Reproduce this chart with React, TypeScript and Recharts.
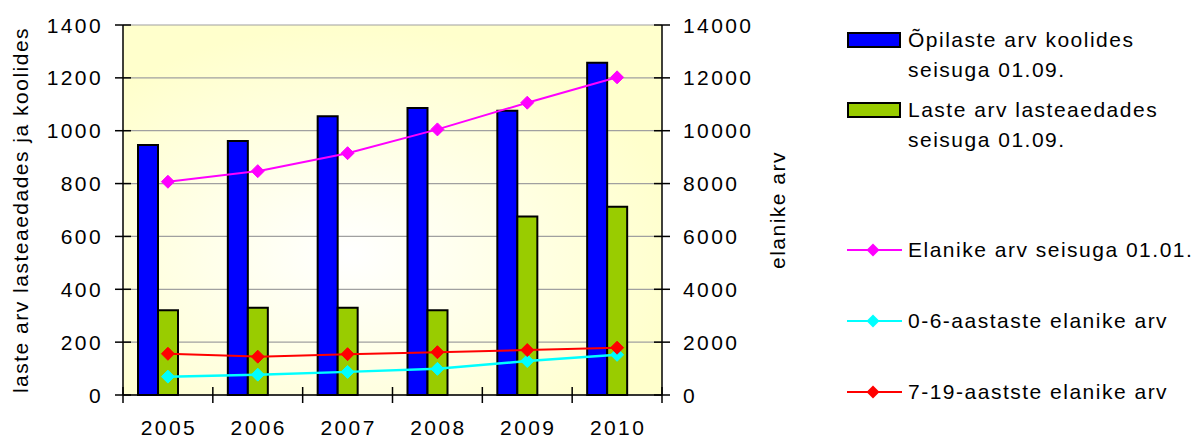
import React from 'react';
import { ComposedChart, Bar, Line, XAxis, YAxis, CartesianGrid } from 'recharts';

const years = ['2005', '2006', '2007', '2008', '2009', '2010'];
const pupils = [946, 961, 1055, 1086, 1076, 1257];
const kindergarten = [321, 330, 330, 321, 675, 712];
const residents = [8070, 8470, 9150, 10050, 11060, 12020];
const age0to6 = [695, 770, 875, 990, 1285, 1520];
const age7to19 = [1560, 1450, 1545, 1620, 1700, 1790];

const leftTicks = [0, 200, 400, 600, 800, 1000, 1200, 1400];
const rightTicks = [0, 2000, 4000, 6000, 8000, 10000, 12000, 14000];

const leftTitle = 'laste arv lasteaedades ja koolides';
const rightTitle = 'elanike arv';

const barLegend = [
  { lines: ['Õpilaste arv koolides', 'seisuga 01.09.'], color: '#0000FF' },
  { lines: ['Laste arv lasteaedades', 'seisuga 01.09.'], color: '#99CC00' },
];
const lineLegend = [
  { label: 'Elanike arv seisuga 01.01.', color: '#FF00FF' },
  { label: '0-6-aastaste elanike arv', color: '#00FFFF' },
  { label: '7-19-aastste elanike arv', color: '#FF0000' },
];

const data = years.map((year, i) => ({
  year,
  pupils: pupils[i],
  kindergarten: kindergarten[i],
  residents: residents[i],
  age0to6: age0to6[i],
  age7to19: age7to19[i],
}));

const FONT = "Arial, 'Liberation Sans', sans-serif";
const FS = 21;
const LS = 1.5;
const TICK_LS = 2.4;

const makeDiamond = (color: string, r = 6.5) => (props: any) => {
  const { cx, cy, index } = props;
  if (cx == null || cy == null) return <g key={index} />;
  return (
    <polygon
      key={index}
      points={`${cx},${cy - r} ${cx + r},${cy} ${cx},${cy + r} ${cx - r},${cy}`}
      fill={color}
      stroke={color}
      strokeWidth={1}
    />
  );
};

const LeftTick = (props: any) => {
  const { x, y, payload } = props;
  return (
    <g>
      <line x1={x - 8} x2={x + 8} y1={y} y2={y} stroke="#000" strokeWidth={1.5} />
      <text x={x - 20} y={y} dy="0.36em" textAnchor="end" fontSize={FS} fontFamily={FONT} letterSpacing={TICK_LS} fill="#000">
        {payload.value}
      </text>
    </g>
  );
};

const RightTick = (props: any) => {
  const { x, y, payload } = props;
  return (
    <g>
      <line x1={x - 8} x2={x + 8} y1={y} y2={y} stroke="#000" strokeWidth={1.5} />
      <text x={x + 21} y={y} dy="0.36em" textAnchor="start" fontSize={FS} fontFamily={FONT} letterSpacing={TICK_LS} fill="#000">
        {payload.value}
      </text>
    </g>
  );
};

const XTick = (props: any) => {
  const { x, y, payload, index, visibleTicksCount } = props;
  const half = payload && payload.offset ? payload.offset : 44.9;
  const count = visibleTicksCount || years.length;
  return (
    <g>
      <line x1={x - half} x2={x - half} y1={y - 8} y2={y + 8} stroke="#000" strokeWidth={1.5} />
      {index === count - 1 && (
        <line x1={x + half} x2={x + half} y1={y - 8} y2={y + 8} stroke="#000" strokeWidth={1.5} />
      )}
      <text x={x + 1} y={y + 40} textAnchor="middle" fontSize={FS} fontFamily={FONT} letterSpacing={TICK_LS} fill="#000">
        {payload.value}
      </text>
    </g>
  );
};

const AxisTitle = (text: string, baselineX: (vb: any) => number) => (props: any) => {
  const vb = props.viewBox || { x: 0, y: 25, width: 0, height: 370 };
  const bx = baselineX(vb);
  const cy = vb.y + vb.height / 2;
  return (
    <text
      x={bx}
      y={cy}
      transform={`rotate(-90, ${bx}, ${cy})`}
      textAnchor="middle"
      fontSize={FS}
      fontFamily={FONT}
      letterSpacing={LS}
      fill="#000"
    >
      {text}
    </text>
  );
};

const Legend = () => (
  <svg width={1199} height={440} style={{ position: 'absolute', left: 0, top: 0, pointerEvents: 'none' }}>
    {barLegend.map((item, i) => {
      const top = 33 + i * 70;
      return (
        <g key={i}>
          <rect x={848} y={top} width={52} height={14} fill={item.color} stroke="#000" strokeWidth={2} />
          {item.lines.map((ln, j) => (
            <text key={j} x={908} y={top + 14 + j * 30} fontSize={FS} fontFamily={FONT} letterSpacing={LS} fill="#000">
              {ln}
            </text>
          ))}
        </g>
      );
    })}
    {lineLegend.map((item, i) => {
      const ly = 250 + i * 71;
      const r = 6.5;
      return (
        <g key={i}>
          <line x1={847} x2={902} y1={ly} y2={ly} stroke={item.color} strokeWidth={2} />
          <polygon points={`873,${ly - r} ${873 + r},${ly} 873,${ly + r} ${873 - r},${ly}`} fill={item.color} />
          <text x={908} y={ly + 7} fontSize={FS} fontFamily={FONT} letterSpacing={LS} fill="#000">
            {item.label}
          </text>
        </g>
      );
    })}
  </svg>
);

export default function App() {
  return (
    <div style={{ position: 'absolute', left: 0, top: 0, width: 1199, height: 440, background: '#fff' }}>
      <ComposedChart
        width={1199}
        height={440}
        data={data}
        margin={{ top: 25, right: 477, bottom: 0, left: 0 }}
        barGap={0}
        barSize={20}
      >
        <defs>
          <radialGradient id="plotBg" cx="42%" cy="62%" r="62%">
            <stop offset="0%" stopColor="#FFFFFF" />
            <stop offset="100%" stopColor="#FFFFCC" />
          </radialGradient>
        </defs>
        <CartesianGrid
          yAxisId="left"
          vertical={false}
          stroke="#A0A0A0"
          strokeWidth={1.2}
          fill="url(#plotBg)"
          fillOpacity={1}
        />
        <XAxis
          dataKey="year"
          height={45}
          tickSize={0}
          tickMargin={0}
          tickLine={false}
          axisLine={{ stroke: '#000', strokeWidth: 1.5 }}
          tick={<XTick />}
          interval={0}
        />
        <YAxis
          yAxisId="left"
          orientation="left"
          width={123}
          domain={[0, 1400]}
          ticks={leftTicks}
          tickSize={0}
          tickMargin={0}
          tickLine={false}
          axisLine={{ stroke: '#000', strokeWidth: 1.5 }}
          tick={<LeftTick />}
          interval={0}
          label={{ content: AxisTitle(leftTitle, (vb) => vb.x + 28) }}
        />
        <YAxis
          yAxisId="right"
          orientation="right"
          width={60}
          domain={[0, 14000]}
          ticks={rightTicks}
          tickSize={0}
          tickMargin={0}
          tickLine={false}
          axisLine={{ stroke: '#000', strokeWidth: 1.5 }}
          tick={<RightTick />}
          interval={0}
          label={{ content: AxisTitle(rightTitle, (vb) => vb.x + 123) }}
        />
        <Bar yAxisId="left" dataKey="pupils" fill="#0000FF" stroke="#000" strokeWidth={2} isAnimationActive={false} />
        <Bar yAxisId="left" dataKey="kindergarten" fill="#99CC00" stroke="#000" strokeWidth={2} isAnimationActive={false} />
        <Bar yAxisId="left" dataKey="unused" fill="none" isAnimationActive={false} legendType="none" />
        <Line
          yAxisId="right"
          dataKey="residents"
          stroke="#FF00FF"
          strokeWidth={2}
          dot={makeDiamond('#FF00FF')}
          activeDot={false}
          isAnimationActive={false}
        />
        <Line
          yAxisId="right"
          dataKey="age0to6"
          stroke="#00FFFF"
          strokeWidth={2.5}
          dot={makeDiamond('#00FFFF')}
          activeDot={false}
          isAnimationActive={false}
        />
        <Line
          yAxisId="right"
          dataKey="age7to19"
          stroke="#FF0000"
          strokeWidth={2}
          dot={makeDiamond('#FF0000')}
          activeDot={false}
          isAnimationActive={false}
        />
      </ComposedChart>
      <Legend />
    </div>
  );
}
